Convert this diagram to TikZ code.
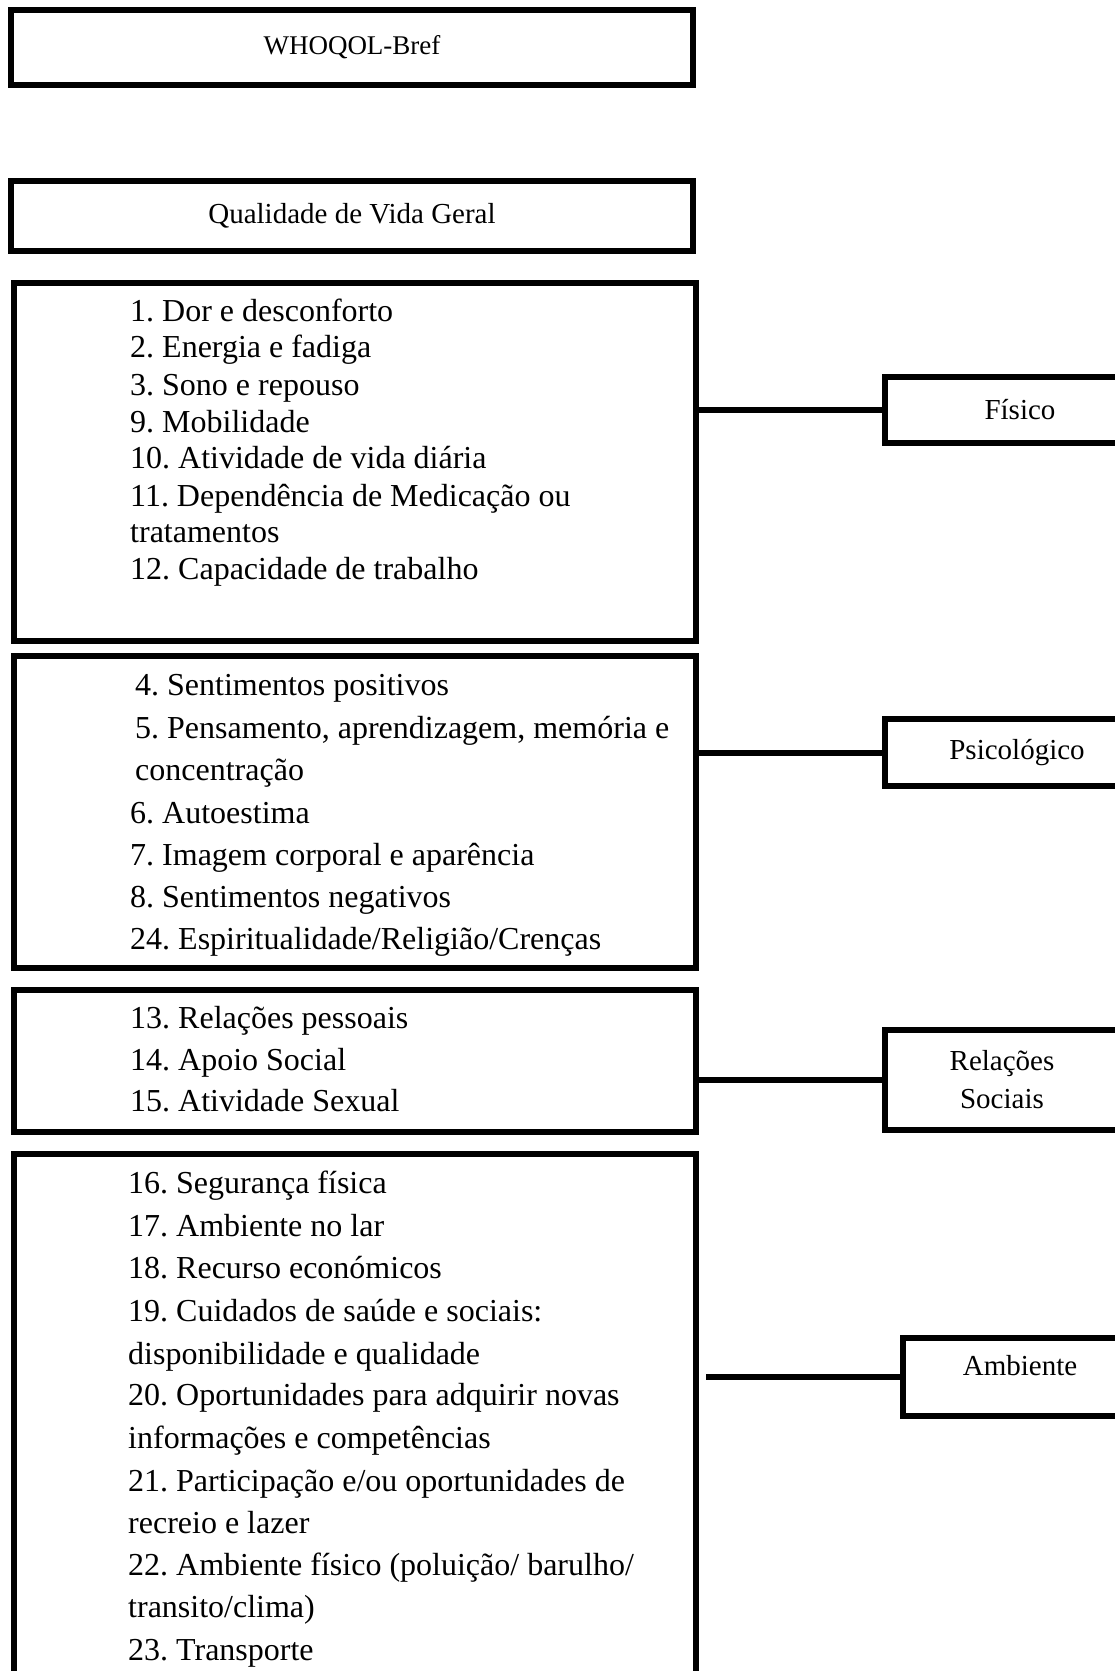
\documentclass[tikz,border=0pt]{standalone}
\usepackage{fontspec}
\setmainfont{Liberation Serif}
\usepackage{tikz}
\usetikzlibrary{positioning, calc}
\frenchspacing

\tikzset{
  frame/.style={draw, line width=6pt, inner sep=0pt},
  item/.style={anchor=base west, inner sep=0pt, font=\fontsize{32}{37}\selectfont},
  dom/.style={frame, align=center, font=\fontsize{29}{38}\selectfont},
  link/.style={line width=6pt}
}

\begin{document}
\begin{tikzpicture}[x=1pt, y=-1pt]

  % Page
  \path[use as bounding box, clip] (0,0) rectangle (1115,1671);

  % Title boxes
  \node[frame, minimum width=682pt, minimum height=75.5pt, font=\fontsize{27}{32}\selectfont] (whoqol) at (352,47.25) {WHOQOL-Bref};
  \node[frame, minimum width=682pt, minimum height=70pt, font=\fontsize{29}{35}\selectfont] (qvg) at (352,216) {Qualidade de Vida Geral};

  % Facet boxes
  \node[frame, anchor=north west, minimum width=682pt, minimum height=358pt] (fisgrp) at (11,280) {};
  \node[frame, anchor=north west, minimum width=682pt, minimum height=312pt] (psigrp) at (11,653) {};
  \node[frame, anchor=north west, minimum width=682pt, minimum height=142pt] (relgrp) at (11,987) {};
  \node[frame, anchor=north west, minimum width=682pt, minimum height=560pt] (ambgrp) at (11,1151) {};

  \foreach \y/\lbl [count=\i] in {
    321/{1. Dor e desconforto}, 357.5/{2. Energia e fadiga}, 395/{3. Sono e repouso},
    432/{9. Mobilidade}, 468/{10. Atividade de vida diária},
    506/{11. Dependência de Medicação ou}, 542/{tratamentos}, 579/{12. Capacidade de trabalho}
  }{
    \node[item] (fis\i) at (130,\y) {\lbl};
  }
  \foreach \x/\y/\lbl [count=\i] in {
    135/695/{4. Sentimentos positivos}, 135/738/{5. Pensamento, aprendizagem, memória e},
    135/780/{concentração}, 130/823/{6. Autoestima}, 130/865/{7. Imagem corporal e aparência},
    130/907/{8. Sentimentos negativos}, 130/949/{24. Espiritualidade/Religião/Crenças}
  }{
    \node[item] (psi\i) at (\x,\y) {\lbl};
  }
  \foreach \y/\lbl [count=\i] in {
    1028/{13. Relações pessoais}, 1070/{14. Apoio Social}, 1111/{15. Atividade Sexual}
  }{
    \node[item] (rel\i) at (130,\y) {\lbl};
  }
  \foreach \y/\lbl [count=\i] in {
    1193/{16. Segurança física}, 1236/{17. Ambiente no lar}, 1278.5/{18. Recurso económicos},
    1321/{19. Cuidados de saúde e sociais:}, 1364/{disponibilidade e qualidade},
    1405/{20. Oportunidades para adquirir novas}, 1448/{informações e competências},
    1491/{21. Participação e/ou oportunidades de}, 1533/{recreio e lazer},
    1575/{22. Ambiente físico (poluição/ barulho/}, 1617.5/{transito/clima)},
    1660/{23. Transporte}
  }{
    \node[item] (amb\i) at (128,\y) {\lbl};
  }

  % Domains
  \node[dom, minimum width=270pt, minimum height=66pt] (fis) at (1020,410) {Físico};
  \node[dom, minimum width=264pt, minimum height=67pt] (psi) at (1017,752.5) {Psicológico};
  \node[dom, minimum width=234pt, minimum height=100pt] (rel) at (1002,1080) {Relações\\Sociais};
  \node[dom, minimum width=234pt, minimum height=78pt, text depth=24pt] (amb) at (1020,1377) {Ambiente};

  % Links
  \draw[link] (fis.west) -- (fis.west -| fisgrp.east);
  \draw[link] (psi.west) -- (psi.west -| psigrp.east);
  \draw[link] (rel.west) -- (rel.west -| relgrp.east);
  \draw[link, shorten >=7pt] (amb.west) -- (amb.west -| ambgrp.east);

\end{tikzpicture}
\end{document}
